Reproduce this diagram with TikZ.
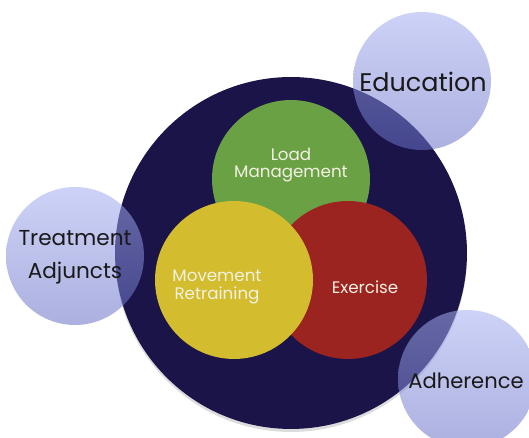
\documentclass[tikz,border=0pt]{standalone}
\usepackage{fontspec}
\setmainfont{Poppins}
\definecolor{navy}{HTML}{1B1449}
\definecolor{loadgreen}{HTML}{6AA145}
\definecolor{moveyellow}{HTML}{D3BC2E}
\definecolor{exred}{HTML}{9B2320}
\definecolor{lavtop}{HTML}{A5AEF2}
\definecolor{lavbot}{HTML}{6870C6}
\definecolor{softwhite}{HTML}{F3F1E2}
\tikzset{
  inner/.style={circle, inner sep=0pt, minimum size=3.16cm},
  intext/.style={text=softwhite, align=center, font=\fontsize{9.5}{10}\selectfont},
  outer/.style={circle, inner sep=0pt, minimum size=2.76cm, top color=lavtop, bottom color=lavbot, fill opacity=0.55},
  outtext/.style={text=black!90, align=center, font=\fontsize{12.3}{19}\selectfont}
}

\begin{document}
\begin{tikzpicture}[x=0.02cm, y=-0.02cm]
    \useasboundingbox[fill=white] (0,0) rectangle (529,438);

    % Core
    \node[circle, fill=black!30, opacity=0.45, minimum size=7.04cm] (SHADOW) at (291,256) {};
    \node[circle, fill=navy, minimum size=7.04cm] (CORE) at (291,253) {};

    % Main components
    \node[inner, fill=loadgreen] (LOAD) at (291,179) {};
    \node[inner, fill=exred] (EXERCISE) at (348,280) {};
    \node[inner, fill=moveyellow] (MOVEMENT) at (234,280) {};
    \node[intext] (LOADTXT) at (291,165) {Load\\Management};
    \node[intext] (EXTXT) at (365,287) {Exercise};
    \node[intext] (MOVETXT) at (217,287) {Movement\\Retraining};

    % Supporting factors
    \node[outer] (EDUCATION) at (422,81) {};
    \node[outer] (ADJUNCTS) at (75,256) {};
    \node[outer] (ADHERENCE) at (467,379) {};
    \node[outtext, font=\fontsize{14.5}{19}\selectfont] (EDUTXT) at (423,82) {Education};
    \node[outtext] (ADJTXT) at (75,257) {Treatment\\Adjuncts};
    \node[outtext, font=\fontsize{12}{19}\selectfont] (ADHTXT) at (466,381) {Adherence};
\end{tikzpicture}
\end{document}
